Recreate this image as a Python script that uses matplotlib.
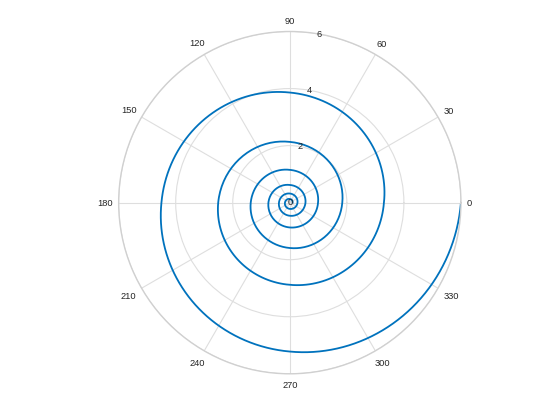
import numpy as np
import matplotlib.pyplot as plt

# spiral at every quarter turn (inner -> outer)
angle_deg = [0, 90, 180, 270, 360, 450, 540, 630, 720, 810, 900, 990,
             1080, 1170, 1260, 1350, 1440, 1530, 1620, 1710, 1800, 1890,
             1980, 2070, 2160]
rho = [0.10, 0.13, 0.17, 0.22, 0.27, 0.32, 0.38, 0.46, 0.55, 0.62, 0.75,
       0.87, 0.99, 1.15, 1.37, 1.59, 1.84, 2.13, 2.51, 2.88, 3.30, 3.86,
       4.50, 5.22, 6.00]
r_ticks = [0, 2, 4, 6]
theta_ticks = list(range(0, 360, 30))

plt.rcParams['font.family'] = ['Liberation Sans', 'DejaVu Sans']
txt_color = '#262626'
fs = 6.7

fig = plt.figure(figsize=(5.6, 4.2), dpi=100)
ax = fig.add_axes([0.13, 0.11, 0.775, 0.815], projection='polar')

line, = ax.plot(np.deg2rad(angle_deg), rho, color='#0072BD', lw=1.3)
line.get_path()._interpolation_steps = 40

ax.set_ylim(0, 6)
ax.set_yticks(r_ticks)
ax.set_yticklabels([])
# r labels sit along the 80 degree direction, centred on the value
for v in r_ticks:
    ax.text(np.deg2rad(80), v, str(v), ha='center', va='center',
            fontsize=fs, color=txt_color)

ax.set_thetagrids(theta_ticks, [''] * len(theta_ticks))
# theta labels: small gap outside the rim, like matlab
for t in theta_ticks:
    lab = str(t)
    c, s = np.cos(np.deg2rad(t)), np.sin(np.deg2rad(t))
    d = 6 + 0.5 * 5.1 * len(lab) * abs(c) + 4.6 * abs(s)
    ax.annotate(lab, xy=(np.deg2rad(t), 6), xytext=(d * c, d * s),
                textcoords='offset pixels', ha='center', va='center_baseline',
                fontsize=fs, color=txt_color, annotation_clip=False)

ax.grid(True, color='#dedede', lw=0.8)
ax.spines['polar'].set_color('#d0d0d0')
ax.spines['polar'].set_linewidth(1.0)

fig.savefig('out.png', dpi=100)
